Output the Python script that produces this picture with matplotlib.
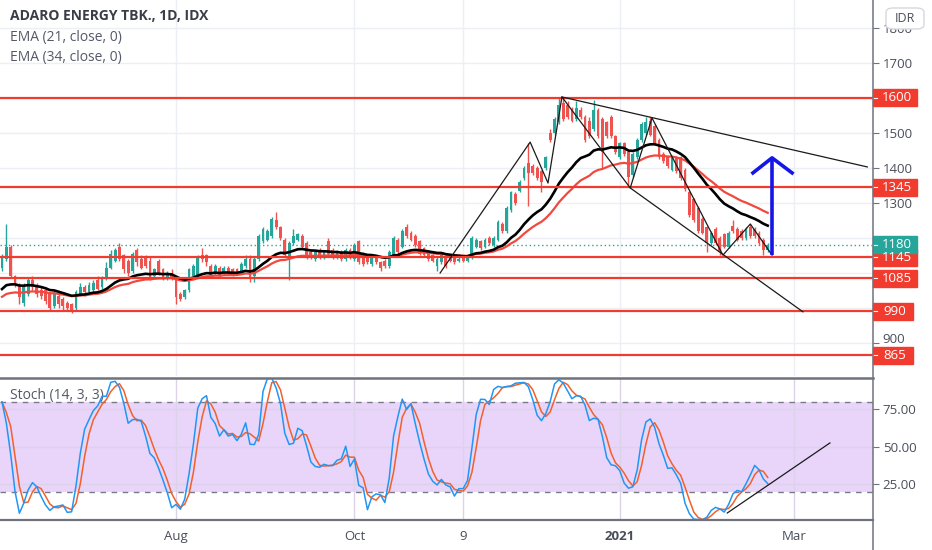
import numpy as np
import pandas as pd
import matplotlib
matplotlib.use('Agg')
import matplotlib.pyplot as plt
import matplotlib.transforms as mtransforms
from matplotlib.patches import Rectangle, FancyBboxPatch
from matplotlib.lines import Line2D

plt.rcParams['font.family'] = ['Open Sans', 'DejaVu Sans']

# daily candles, ADRO (IDR), one value per bar
opens = [1115, 1140, 1175, 1090, 1065, 1015, 1040, 1080, 1060, 1050,
         1050, 1040, 1005, 1035, 1025, 1015, 1010, 1000, 1040, 1060,
         1045, 1050, 1080, 1060, 1085, 1115, 1135, 1175, 1150, 1135,
         1105, 1165, 1140, 1145, 1135, 1090, 1135, 1110, 1085, 1100,
         1080, 1040, 1030, 1050, 1090, 1095, 1150, 1150, 1120, 1100,
         1115, 1100, 1115, 1110, 1110, 1105, 1120, 1140, 1090, 1140,
         1190, 1195, 1205, 1250, 1230, 1195, 1145, 1185, 1195, 1205,
         1185, 1160, 1140, 1165, 1145, 1190, 1165, 1145, 1160, 1140,
         1165, 1140, 1190, 1155, 1150, 1125, 1145, 1130, 1135, 1120,
         1150, 1195, 1175, 1230, 1215, 1205, 1190, 1170, 1160, 1150,
         1120, 1130, 1145, 1150, 1145, 1135, 1145, 1135, 1145, 1175,
         1190, 1175, 1200, 1180, 1195, 1240, 1220, 1280, 1325, 1335,
         1370, 1415, 1405, 1400, 1390, 1400, 1500, 1500, 1530, 1585,
         1580, 1565, 1540, 1565, 1545, 1535, 1510, 1565, 1540, 1530,
         1545, 1490, 1430, 1470, 1445, 1380, 1430, 1480, 1500, 1535,
         1520, 1480, 1440, 1430, 1395, 1430, 1430, 1395, 1330, 1310,
         1285, 1255, 1230, 1185, 1225, 1200, 1210, 1175, 1235, 1225,
         1220, 1200, 1230, 1225, 1215, 1195, 1165]
highs = [1155, 1240, 1180, 1095, 1070, 1070, 1085, 1090, 1070, 1060,
         1060, 1045, 1050, 1045, 1030, 1020, 1015, 1050, 1070, 1065,
         1075, 1080, 1090, 1090, 1130, 1165, 1170, 1185, 1155, 1140,
         1160, 1170, 1150, 1150, 1145, 1115, 1140, 1115, 1105, 1110,
         1085, 1045, 1055, 1115, 1125, 1150, 1170, 1155, 1125, 1125,
         1120, 1120, 1120, 1115, 1115, 1130, 1150, 1150, 1145, 1210,
         1230, 1225, 1260, 1275, 1235, 1200, 1190, 1225, 1215, 1210,
         1190, 1165, 1165, 1170, 1165, 1200, 1170, 1165, 1165, 1170,
         1170, 1185, 1195, 1160, 1155, 1150, 1150, 1135, 1140, 1165,
         1205, 1200, 1225, 1240, 1220, 1210, 1195, 1175, 1165, 1155,
         1145, 1160, 1150, 1155, 1150, 1145, 1150, 1150, 1205, 1200,
         1195, 1200, 1205, 1205, 1250, 1245, 1290, 1335, 1330, 1365,
         1405, 1470, 1410, 1405, 1395, 1435, 1510, 1545, 1600, 1600,
         1590, 1575, 1590, 1575, 1550, 1545, 1595, 1570, 1545, 1535,
         1550, 1495, 1475, 1475, 1450, 1445, 1485, 1530, 1545, 1545,
         1525, 1485, 1445, 1435, 1435, 1435, 1435, 1400, 1335, 1315,
         1290, 1260, 1235, 1220, 1230, 1205, 1215, 1220, 1250, 1230,
         1225, 1230, 1240, 1230, 1220, 1200, 1185]
lows = [1105, 1135, 1085, 1060, 1010, 1005, 1035, 1050, 1030, 1025,
        1010, 990, 1000, 1000, 995, 990, 985, 990, 1035, 1035,
        1040, 1045, 1050, 1055, 1080, 1110, 1130, 1135, 1100, 1090,
        1100, 1120, 1110, 1115, 1080, 1085, 1095, 1080, 1080, 1080,
        1010, 1020, 1025, 1045, 1085, 1090, 1130, 1120, 1090, 1095,
        1085, 1095, 1095, 1090, 1095, 1100, 1115, 1075, 1075, 1135,
        1185, 1190, 1200, 1225, 1195, 1145, 1080, 1180, 1190, 1170,
        1140, 1140, 1135, 1140, 1140, 1150, 1140, 1140, 1135, 1135,
        1140, 1135, 1125, 1120, 1125, 1120, 1125, 1105, 1115, 1115,
        1145, 1155, 1170, 1200, 1190, 1175, 1150, 1145, 1135, 1130,
        1105, 1125, 1115, 1130, 1125, 1130, 1130, 1130, 1140, 1170,
        1165, 1170, 1180, 1175, 1190, 1215, 1215, 1275, 1295, 1330,
        1365, 1290, 1380, 1365, 1330, 1395, 1475, 1495, 1525, 1535,
        1540, 1530, 1535, 1540, 1475, 1485, 1505, 1485, 1400, 1485,
        1485, 1440, 1425, 1435, 1345, 1375, 1425, 1475, 1495, 1490,
        1465, 1425, 1415, 1400, 1390, 1385, 1365, 1335, 1260, 1245,
        1215, 1210, 1160, 1180, 1180, 1150, 1170, 1170, 1215, 1190,
        1195, 1195, 1200, 1200, 1180, 1150, 1160]
closes = [1145, 1175, 1090, 1070, 1030, 1060, 1080, 1060, 1040, 1035,
          1020, 1000, 1040, 1010, 1005, 1000, 995, 1045, 1060, 1045,
          1065, 1070, 1055, 1085, 1115, 1155, 1165, 1140, 1110, 1100,
          1155, 1130, 1115, 1120, 1085, 1110, 1100, 1085, 1100, 1085,
          1030, 1025, 1050, 1110, 1120, 1145, 1140, 1130, 1095, 1120,
          1090, 1115, 1100, 1095, 1100, 1125, 1140, 1085, 1140, 1205,
          1225, 1220, 1255, 1230, 1200, 1150, 1185, 1205, 1210, 1175,
          1145, 1145, 1160, 1145, 1160, 1155, 1145, 1160, 1140, 1165,
          1145, 1180, 1130, 1125, 1130, 1145, 1130, 1115, 1120, 1160,
          1200, 1160, 1220, 1205, 1195, 1180, 1155, 1150, 1140, 1135,
          1140, 1155, 1120, 1135, 1130, 1140, 1135, 1145, 1200, 1195,
          1170, 1195, 1185, 1200, 1245, 1220, 1285, 1330, 1300, 1360,
          1400, 1385, 1385, 1370, 1360, 1430, 1480, 1540, 1580, 1540,
          1545, 1535, 1570, 1545, 1480, 1490, 1565, 1490, 1445, 1490,
          1490, 1445, 1470, 1440, 1375, 1440, 1480, 1525, 1530, 1495,
          1470, 1430, 1420, 1405, 1430, 1390, 1370, 1340, 1265, 1250,
          1220, 1215, 1185, 1215, 1185, 1160, 1175, 1215, 1220, 1195,
          1200, 1225, 1205, 1205, 1185, 1165, 1180]

# EMA values at the left edge of the chart (history before the first bar)
ema21_seed = 1045
ema34_seed = 1025

# date labels at bar index
tick_bars = [40, 81, 106, 142, 182]
tick_labels = ['Aug', 'Oct', '9', '2021', 'Mar']

# price axis labels that are not hidden behind the level tags
price_ticks = [900, 1300, 1400, 1500, 1700, 1800]

# support / resistance levels and last price
levels = [1600, 1345, 1145, 1085, 990, 865]
last_price = 1180

# hand drawn lines (bar index, price)
zigzag_x = [100.7, 121.4, 125.5, 128.7, 144.4, 149.4, 165.7, 172.0, 177.0]
zigzag_y = [1100, 1474, 1357, 1603, 1343, 1543, 1151, 1240, 1151]
upper_x = [128.7, 198.9]
upper_y = [1603, 1403]
lower_x = [144.4, 184.1]
lower_y = [1343, 989]
arrow_bar = 177.0
arrow_from, arrow_to = 1151, 1429
arrow_wing_x = [172.6, 177.0, 181.6]
arrow_wing_y = [1386, 1429, 1386]
stoch_line_x = [166.7, 190.3]
stoch_line_y = [6, 52.7]

GREEN = '#26a69a'
RED = '#ef5350'
LEVEL_RED = '#f23b2f'
GRID = '#eceff3'
TXT = '#4a4e5a'
BORDER = '#70737e'

W, H = 932, 550
fig = plt.figure(figsize=(W / 100, H / 100), dpi=100)
fig.patch.set_facecolor('white')

ax = fig.add_axes([0, 1 - 376 / H, 873 / W, 376 / H])
ax2 = fig.add_axes([0, 1 - 520 / H, 873 / W, (520 - 379) / H])

x = np.arange(len(closes))
o = np.array(opens, dtype=float)
c = np.array(closes, dtype=float)
hi = np.array(highs, dtype=float)
lo = np.array(lows, dtype=float)

# ---- price pane ----
ax.set_xlim(-0.46, 200.2)
ax.set_ylim(805.7, 1880)
ax.set_xticks(tick_bars)
ax.set_xticklabels([])
ax.set_yticks(np.arange(900, 1900, 100), minor=True)
ax.set_yticks(price_ticks)
# lowest label sits right above the 865 tag, it is drawn by hand a bit higher
ax.set_yticklabels(['' if v == price_ticks[0] else str(v) for v in price_ticks])
ax.yaxis.tick_right()
ax.tick_params(axis='y', which='major', length=4, width=0.8, color=BORDER, pad=3,
               labelsize=9.5, labelcolor=TXT)
ax.tick_params(axis='y', which='minor', length=0)
ax.tick_params(axis='x', length=0)
ax.grid(True, which='both', color=GRID, lw=1, zorder=0)
ax.set_axisbelow(True)
for s in ax.spines.values():
    s.set_visible(False)

cols = np.where(c >= o, GREEN, RED)
ax.vlines(x, lo, hi, colors=cols, lw=1, zorder=3)
ax.bar(x, np.maximum(np.abs(c - o), 3), bottom=np.minimum(o, c), width=0.65,
       color=cols, lw=0, zorder=3)

# EMAs
ema21 = pd.Series([ema21_seed] + closes, dtype=float).ewm(span=21, adjust=False).mean().values[1:]
ema34 = pd.Series([ema34_seed] + closes, dtype=float).ewm(span=34, adjust=False).mean().values[1:]
ax.plot(x, ema34, color='#f0493e', lw=1.6, zorder=4)
ax.plot(x, ema21, color='black', lw=1.9, zorder=5)

# levels
for lv in levels:
    ax.axhline(lv, color=LEVEL_RED, lw=1.6, zorder=6)
ax.axhline(last_price, color=GREEN, lw=1, ls=(0, (1, 2)), zorder=2)

# drawings
ax.plot(zigzag_x, zigzag_y, color='#1a1a1a', lw=0.9, zorder=7)
ax.plot(upper_x, upper_y, color='#1a1a1a', lw=0.9, zorder=7)
ax.plot(lower_x, lower_y, color='#1a1a1a', lw=0.9, zorder=7)
ax.plot([arrow_bar, arrow_bar], [arrow_from, arrow_to], color='#1515e8', lw=2.6,
        zorder=8, solid_capstyle='butt')
ax.plot(arrow_wing_x, arrow_wing_y, color='#1515e8', lw=2.6, zorder=8)

# price tags on the right axis
tr = mtransforms.blended_transform_factory(ax.transAxes, ax.transData)
box_h = 17 * 2.857
for lv in levels + [last_price]:
    colr = GREEN if lv == last_price else LEVEL_RED
    bw = (44 if lv >= 1000 else 40) / 873
    ax.add_patch(Rectangle((1.0, lv - box_h / 2), bw, box_h, transform=tr,
                           color=colr, clip_on=False, zorder=20))
    ax.plot([1.0, 1.0 + 4 / 873], [lv, lv], color='white', lw=0.8, transform=tr,
            clip_on=False, zorder=21)
    ax.text(1.0 + (bw + 4 / 873) / 2, lv, str(lv), transform=tr, ha='center', va='center',
            color='white', fontsize=9.5, clip_on=False, zorder=22)

up_shift = tr + mtransforms.ScaledTranslation(0, 2.5 / 72, fig.dpi_scale_trans)
ax.text(1.0 + 9 / 873, price_ticks[0], str(price_ticks[0]), transform=up_shift,
        ha='left', va='center', color=TXT, fontsize=9.5, clip_on=False, zorder=19)

# legend text
fig.text(10 / W, 1 - 16 / H, 'ADARO ENERGY TBK., 1D, IDX', fontsize=10,
         fontweight='bold', color='#3a3d47', va='center')
fig.text(10 / W, 1 - 38 / H, 'EMA (21, close, 0)', fontsize=10, color='#555866', va='center')
fig.text(10 / W, 1 - 58 / H, 'EMA (34, close, 0)', fontsize=10, color='#555866', va='center')

# currency box
fig.patches.append(FancyBboxPatch((886 / W, 1 - 29 / H), 38 / W, 21 / H,
                                  boxstyle='round,pad=0,rounding_size=0.008',
                                  transform=fig.transFigure, fc='white', ec='#d6d8de',
                                  lw=1, zorder=5))
fig.text(905 / W, 1 - 18 / H, 'IDR', ha='center', va='center', fontsize=9,
         color='#4a4e5a', zorder=6)

# ---- stochastic pane ----
df = pd.DataFrame({'h': hi, 'l': lo, 'c': c})
ll = df['l'].rolling(14, min_periods=1).min()
hh = df['h'].rolling(14, min_periods=1).max()
raw_k = 100 * (df['c'] - ll) / (hh - ll)
k = raw_k.rolling(3, min_periods=1).mean()
d = k.rolling(3, min_periods=1).mean()

ax2.set_xlim(-0.46, 200.2)
ax2.set_ylim(1.33, 95.33)
ax2.axhspan(20, 80, color='#e9d5fa', lw=0, zorder=0)
ax2.set_yticks([25, 50, 75])
ax2.set_yticklabels(['25.00', '50.00', '75.00'])
ax2.yaxis.tick_right()
ax2.tick_params(axis='y', length=4, width=0.8, color=BORDER, pad=3, labelsize=9.5, labelcolor=TXT)
ax2.set_xticks(tick_bars)
ax2.set_xticklabels(tick_labels)
ax2.tick_params(axis='x', length=0, pad=7, labelsize=9.5, labelcolor=TXT)
ax2.get_xticklabels()[3].set_fontweight('bold')
ax2.grid(True, color='#dcd2ea', lw=1, zorder=1)
ax2.set_axisbelow(True)
for s in ax2.spines.values():
    s.set_visible(False)
ax2.axhline(80, color='#787b86', lw=1, ls=(0, (4, 4)), zorder=2)
ax2.axhline(20, color='#787b86', lw=1, ls=(0, (4, 4)), zorder=2)
ax2.plot(x, d, color='#f2602c', lw=1.1, zorder=3)
ax2.plot(x, k, color='#2196f3', lw=1.1, zorder=4)
ax2.plot(stoch_line_x, stoch_line_y, color='#1a1a1a', lw=0.9, zorder=5)
ax2.text(10 / 873, 1 - 16 / 141, 'Stoch (14, 3, 3)', transform=ax2.transAxes, fontsize=10,
         color='#555866', va='center')

# pane borders
fig.add_artist(Line2D([0, 873 / W], [1 - 377.5 / H] * 2, color=BORDER, lw=1.8))
fig.add_artist(Line2D([0, 873 / W], [1 - 520 / H] * 2, color=BORDER, lw=1.6))
fig.add_artist(Line2D([873 / W] * 2, [0, 1], color=BORDER, lw=1.1))

fig.savefig('out.png', dpi=100)
